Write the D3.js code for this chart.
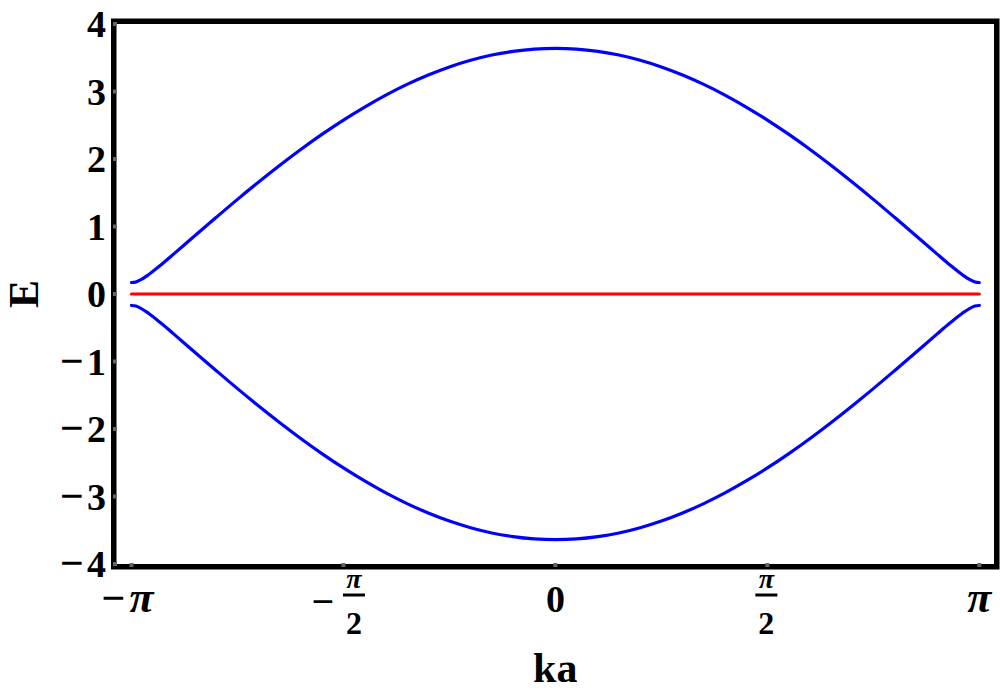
<!DOCTYPE html>
<html>
<head>
<meta charset="utf-8">
<script src="https://cdn.jsdelivr.net/npm/d3@7"></script>
<style>
  html, body { margin: 0; padding: 0; background: #fff; }
  svg { display: block; }
  text { font-family: "Liberation Serif", "DejaVu Serif", serif; font-weight: bold; fill: #000; }
</style>
</head>
<body>
<svg id="chart" width="1000" height="693"></svg>
<script>
// ---- data (ka in units of π) ----
const kaOverPi = [-1, -0.99, -0.98, -0.96, -0.93, -0.9, -0.85, -0.8, -0.75, -0.7, -0.65, -0.6, -0.55, -0.5,
  -0.45, -0.4, -0.35, -0.3, -0.25, -0.2, -0.15, -0.1, -0.05, 0,
  0.05, 0.1, 0.15, 0.2, 0.25, 0.3, 0.35, 0.4, 0.45, 0.5, 0.55, 0.6, 0.65, 0.7, 0.75, 0.8, 0.85, 0.9,
  0.93, 0.96, 0.98, 0.99, 1];
const upperBand = [0.170, 0.179, 0.205, 0.285, 0.434, 0.594, 0.866, 1.136, 1.402, 1.659, 1.907, 2.144, 2.368, 2.577,
  2.770, 2.947, 3.105, 3.244, 3.364, 3.462, 3.540, 3.595, 3.629, 3.640,
  3.629, 3.595, 3.540, 3.462, 3.364, 3.244, 3.105, 2.947, 2.770, 2.577, 2.368, 2.144, 1.907, 1.659, 1.402, 1.136, 0.866, 0.594,
  0.434, 0.285, 0.205, 0.179, 0.170];
const lowerBand = [-0.170, -0.179, -0.205, -0.285, -0.434, -0.594, -0.866, -1.136, -1.402, -1.659, -1.907, -2.144, -2.368, -2.577,
  -2.770, -2.947, -3.105, -3.244, -3.364, -3.462, -3.540, -3.595, -3.629, -3.640,
  -3.629, -3.595, -3.540, -3.462, -3.364, -3.244, -3.105, -2.947, -2.770, -2.577, -2.368, -2.144, -1.907, -1.659, -1.402, -1.136, -0.866, -0.594,
  -0.434, -0.285, -0.205, -0.179, -0.170];
const flatBand = [-1, 1];          // ka/π endpoints of the E = 0 band
const flatValues = [0, 0];
const yTicks = [-4, -3, -2, -1, 0, 1, 2, 3, 4];
const xTicks = [-1, -0.5, 0, 0.5, 1]; // units of π
const xTickLabels = ["−π", "−π/2", "0", "π/2", "π"];
const xLabel = "ka";
const yLabel = "E";

// ---- layout ----
const svg = d3.select("#chart");
const frame = { left: 116.5, right: 994, top: 24, bottom: 564 };
const frameStroke = 5.5;

const x = d3.scaleLinear().domain([-1, 1]).range([131.5, 979.3]);
const y = d3.scaleLinear().domain([-4, 4]).range([564, 24]);

// curves
const line = d3.line().x(d => x(d[0])).y(d => y(d[1])).curve(d3.curveMonotoneX);
const g = svg.append("g");
g.append("path")
  .attr("d", line(kaOverPi.map((k, i) => [k, upperBand[i]])))
  .attr("fill", "none").attr("stroke", "#0000ff").attr("stroke-width", 3.2).attr("stroke-linecap", "round");
g.append("path")
  .attr("d", line(kaOverPi.map((k, i) => [k, lowerBand[i]])))
  .attr("fill", "none").attr("stroke", "#0000ff").attr("stroke-width", 3.2).attr("stroke-linecap", "round");
g.append("path")
  .attr("d", line(flatBand.map((k, i) => [k, flatValues[i]])))
  .attr("fill", "none").attr("stroke", "#ff0000").attr("stroke-width", 3.2).attr("stroke-linecap", "round");

// frame
svg.append("rect")
  .attr("x", frame.left - frameStroke / 2)
  .attr("y", frame.top - frameStroke / 2)
  .attr("width", frame.right - frame.left + frameStroke)
  .attr("height", frame.bottom - frame.top + frameStroke)
  .attr("fill", "none").attr("stroke", "#000").attr("stroke-width", frameStroke);

// tick marks (small grey squares on the frame)
svg.selectAll("rect.yt").data(yTicks).enter().append("rect")
  .attr("class", "yt")
  .attr("x", 113).attr("y", d => y(d) - 2).attr("width", 4).attr("height", 4)
  .attr("fill", "#666");
svg.selectAll("rect.xt").data(xTicks).enter().append("rect")
  .attr("class", "xt")
  .attr("x", d => x(d) - 2).attr("y", 563).attr("width", 4).attr("height", 4)
  .attr("fill", "#666");

// y tick labels
yTicks.forEach(v => {
  const t = svg.append("text").attr("x", 106).attr("y", y(v) + 13)
    .attr("text-anchor", "end").attr("font-size", 38);
  if (v < 0) {
    t.append("tspan").attr("font-size", 42).text("−");
    t.append("tspan").attr("dx", 3).text(String(Math.abs(v)));
  } else {
    t.text(String(v));
  }
});

// x tick labels
xTicks.forEach((v, i) => {
  const lab = xTickLabels[i];
  const cx = x(v);
  const neg = lab.startsWith("−");
  if (lab.includes("/")) {
    const fc = neg ? cx + 10.5 : cx - 1;
    if (neg) {
      svg.append("text").attr("x", cx - 20.5).attr("y", 615).attr("text-anchor", "middle")
        .attr("font-size", 40).text("−");
    }
    svg.append("text").attr("x", fc).attr("y", 588).attr("text-anchor", "middle")
      .attr("font-size", 28).attr("font-style", "italic").text("π");
    svg.append("rect").attr("x", fc - 11).attr("y", 593.5).attr("width", 22).attr("height", 3).attr("fill", "#000");
    svg.append("text").attr("x", fc).attr("y", 634).attr("text-anchor", "middle")
      .attr("font-size", 32).text("2");
  } else if (lab.includes("π")) {
    const t = svg.append("text").attr("x", neg ? cx - 4 : cx).attr("y", 612).attr("text-anchor", "middle");
    if (neg) t.append("tspan").attr("font-size", 42).text("−");
    t.append("tspan").attr("dx", neg ? 4 : 0).attr("font-size", 44).attr("font-style", "italic").text("π");
  } else {
    svg.append("text").attr("x", cx).attr("y", 612).attr("text-anchor", "middle")
      .attr("font-size", 38).text(lab);
  }
});

// axis titles
svg.append("text").attr("x", (frame.left + frame.right) / 2).attr("y", 682)
  .attr("text-anchor", "middle").attr("font-size", 42).text(xLabel);
svg.append("text").attr("transform", `translate(38, ${y(0)}) rotate(-90)`)
  .attr("text-anchor", "middle").attr("font-size", 42).text(yLabel);
</script>
</body>
</html>
